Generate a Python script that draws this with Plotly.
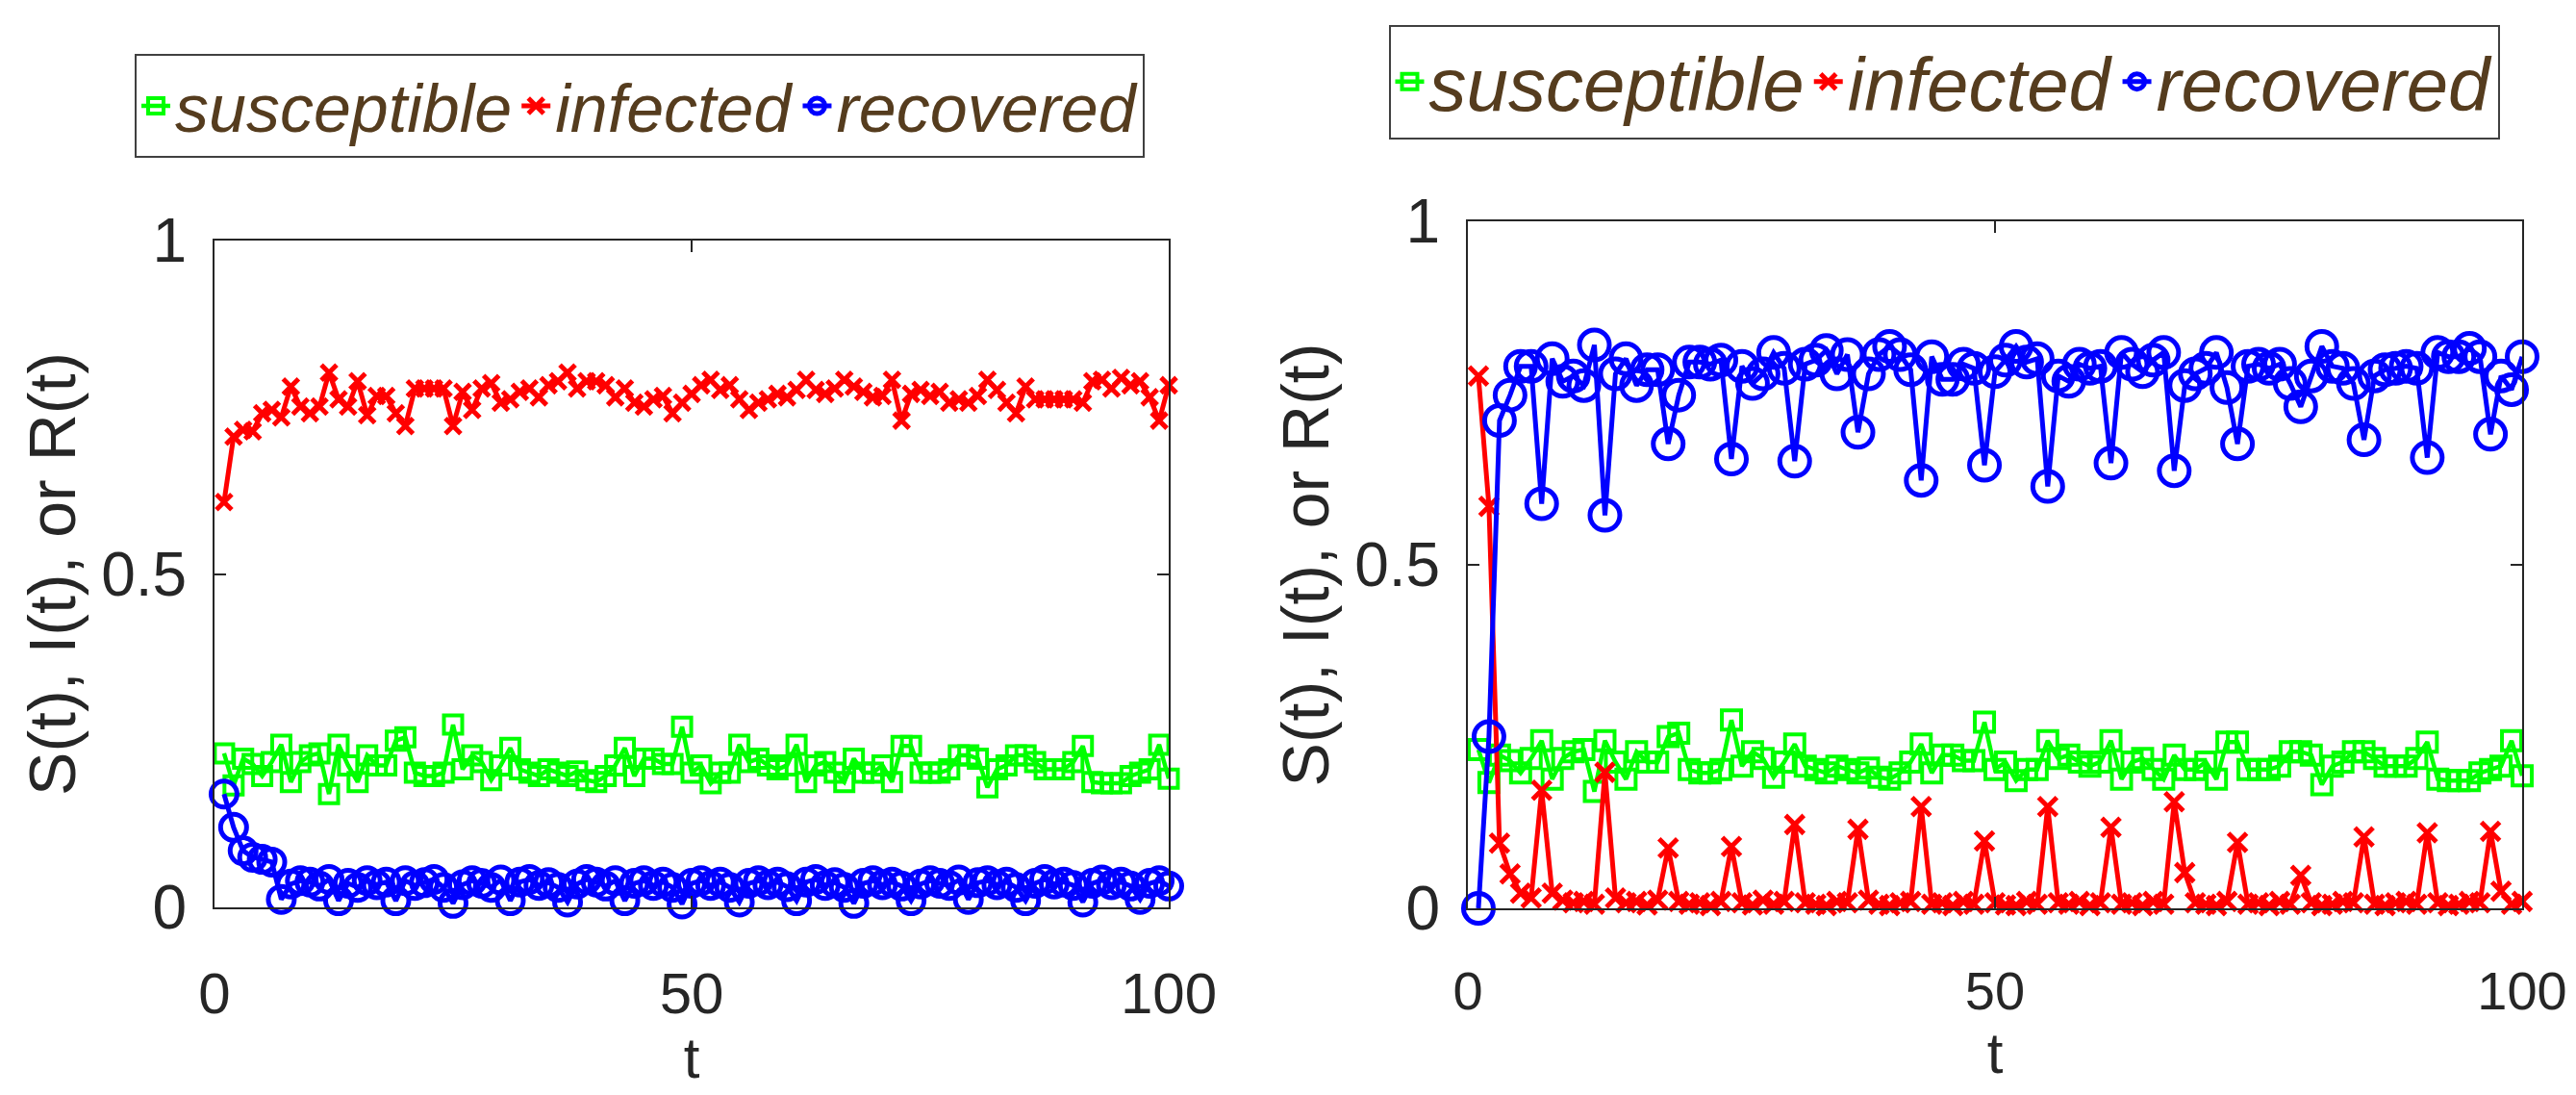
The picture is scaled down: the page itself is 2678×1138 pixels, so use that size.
import plotly.graph_objects as go

t = list(range(1, 101))

susceptible = [
    0.231, 0.183, 0.223, 0.215, 0.197, 0.218, 0.244, 0.188, 0.218, 0.228,
    0.231, 0.170, 0.244, 0.213, 0.188, 0.228, 0.213, 0.213, 0.250, 0.255,
    0.202, 0.197, 0.197, 0.202, 0.274, 0.207, 0.228, 0.218, 0.191, 0.213,
    0.239, 0.207, 0.202, 0.197, 0.207, 0.202, 0.197, 0.204, 0.191, 0.188,
    0.197, 0.213, 0.239, 0.197, 0.223, 0.223, 0.215, 0.215, 0.271, 0.202,
    0.213, 0.186, 0.202, 0.202, 0.244, 0.218, 0.223, 0.213, 0.207, 0.213,
    0.244, 0.188, 0.213, 0.218, 0.202, 0.188, 0.223, 0.202, 0.202, 0.213,
    0.188, 0.242, 0.242, 0.202, 0.202, 0.202, 0.207, 0.228, 0.228, 0.223,
    0.180, 0.207, 0.213, 0.228, 0.228, 0.218, 0.207, 0.207, 0.207, 0.218,
    0.242, 0.188, 0.186, 0.186, 0.186, 0.197, 0.202, 0.207, 0.244, 0.193,
]

infected_left = [
    0.608, 0.706, 0.716, 0.714, 0.741, 0.746, 0.735, 0.781, 0.751, 0.741,
    0.751, 0.802, 0.762, 0.751, 0.789, 0.738, 0.767, 0.767, 0.741, 0.722,
    0.778, 0.778, 0.778, 0.778, 0.722, 0.773, 0.746, 0.778, 0.786, 0.757,
    0.762, 0.773, 0.778, 0.765, 0.783, 0.789, 0.802, 0.778, 0.789, 0.789,
    0.783, 0.765, 0.778, 0.757, 0.751, 0.762, 0.767, 0.741, 0.757, 0.770,
    0.783, 0.791, 0.776, 0.783, 0.762, 0.746, 0.757, 0.762, 0.770, 0.765,
    0.776, 0.791, 0.776, 0.770, 0.778, 0.791, 0.781, 0.773, 0.765, 0.767,
    0.791, 0.730, 0.770, 0.776, 0.767, 0.773, 0.757, 0.762, 0.757, 0.767,
    0.791, 0.776, 0.757, 0.741, 0.781, 0.762, 0.762, 0.762, 0.762, 0.762,
    0.757, 0.789, 0.791, 0.778, 0.794, 0.783, 0.789, 0.765, 0.730, 0.783,
]

recovered_left = [
    0.170, 0.120, 0.085, 0.075, 0.072, 0.068, 0.012, 0.035, 0.040, 0.038,
    0.032, 0.042, 0.010, 0.036, 0.030, 0.040, 0.034, 0.038, 0.010, 0.040,
    0.033, 0.037, 0.042, 0.030, 0.006, 0.034, 0.040, 0.036, 0.030, 0.041,
    0.010, 0.038, 0.042, 0.033, 0.037, 0.030, 0.008, 0.035, 0.042, 0.038,
    0.032, 0.040, 0.010, 0.036, 0.040, 0.033, 0.038, 0.030, 0.005, 0.036,
    0.040, 0.033, 0.038, 0.030, 0.008, 0.036, 0.040, 0.034, 0.038, 0.031,
    0.010, 0.038, 0.042, 0.033, 0.037, 0.030, 0.006, 0.036, 0.040, 0.034,
    0.038, 0.032, 0.010, 0.035, 0.040, 0.036, 0.033, 0.041, 0.012, 0.037,
    0.040, 0.034, 0.038, 0.030, 0.010, 0.036, 0.042, 0.035, 0.038, 0.033,
    0.008, 0.036, 0.041, 0.034, 0.038, 0.032, 0.012, 0.036, 0.040, 0.032,
]

infected_right = [
    0.775, 0.585, 0.095, 0.050, 0.022, 0.015, 0.172, 0.022, 0.012, 0.008,
    0.010, 0.006, 0.198, 0.015, 0.008, 0.010, 0.005, 0.012, 0.088, 0.010,
    0.006, 0.008, 0.004, 0.010, 0.090, 0.008, 0.005, 0.012, 0.006, 0.010,
    0.122, 0.008, 0.006, 0.004, 0.010, 0.008, 0.115, 0.012, 0.006, 0.004,
    0.008, 0.010, 0.148, 0.006, 0.008, 0.004, 0.010, 0.006, 0.098, 0.008,
    0.005, 0.004, 0.010, 0.006, 0.148, 0.008, 0.006, 0.010, 0.004, 0.008,
    0.118, 0.006, 0.008, 0.004, 0.010, 0.006, 0.155, 0.052, 0.008, 0.006,
    0.004, 0.010, 0.096, 0.006, 0.008, 0.004, 0.010, 0.006, 0.048, 0.008,
    0.004, 0.006, 0.010, 0.008, 0.104, 0.006, 0.004, 0.008, 0.010, 0.006,
    0.110, 0.008, 0.004, 0.006, 0.010, 0.008, 0.112, 0.025, 0.006, 0.010,
]

recovered_right = [
    0.000, 0.250, 0.710, 0.747, 0.789, 0.789, 0.589, 0.800, 0.767, 0.775,
    0.761, 0.820, 0.572, 0.778, 0.800, 0.761, 0.784, 0.784, 0.676, 0.747,
    0.795, 0.795, 0.792, 0.798, 0.654, 0.789, 0.764, 0.778, 0.809, 0.786,
    0.651, 0.792, 0.798, 0.812, 0.778, 0.806, 0.693, 0.778, 0.806, 0.818,
    0.806, 0.784, 0.623, 0.803, 0.770, 0.770, 0.792, 0.786, 0.645, 0.781,
    0.798, 0.818, 0.795, 0.800, 0.614, 0.775, 0.767, 0.792, 0.786, 0.789,
    0.648, 0.809, 0.792, 0.781, 0.798, 0.809, 0.637, 0.761, 0.778, 0.786,
    0.809, 0.758, 0.676, 0.789, 0.792, 0.786, 0.792, 0.764, 0.730, 0.775,
    0.818, 0.789, 0.786, 0.764, 0.682, 0.775, 0.784, 0.786, 0.789, 0.786,
    0.656, 0.809, 0.803, 0.803, 0.815, 0.803, 0.690, 0.775, 0.755, 0.803,
]

x_ticks = [0, 50, 100]
y_ticks = [0, 0.5, 1]
y_tick_text = ["0", "0.5", "1"]
legend_names = ["susceptible", "infected", "recovered"]

GREEN = "#00ff00"
RED = "#ff0000"
BLUE = "#0000ff"
AXC = "#262626"
TXT = "#553c1e"
FONT = "Liberation Sans, Arial, Helvetica, sans-serif"

fig = go.Figure()


def add_panel(S, I, R, xa, ya, leg, big):
    csize = 31 if big else 27
    ssize = 20 if big else 19
    xsize = 19 if big else 16
    fig.add_trace(go.Scatter(
        x=t, y=S, xaxis=xa, yaxis=ya, legend=leg, mode="lines+markers",
        name="<i>" + legend_names[0] + "</i>", cliponaxis=False,
        line=dict(color=GREEN, width=4.5),
        marker=dict(symbol="square-open", size=ssize, color=GREEN,
                    line=dict(color=GREEN, width=4))))
    fig.add_trace(go.Scatter(
        x=t, y=I, xaxis=xa, yaxis=ya, legend=leg, mode="lines+markers",
        name="<i>" + legend_names[1] + "</i>", cliponaxis=False,
        line=dict(color=RED, width=5),
        marker=dict(symbol="x-thin", size=xsize, color=RED,
                    line=dict(color=RED, width=5))))
    fig.add_trace(go.Scatter(
        x=t, y=R, xaxis=xa, yaxis=ya, legend=leg, mode="lines+markers",
        name="<i>" + legend_names[2] + "</i>", cliponaxis=False,
        line=dict(color=BLUE, width=5),
        marker=dict(symbol="circle-open", size=csize, color=BLUE,
                    line=dict(color=BLUE, width=5))))


add_panel(susceptible, infected_left, recovered_left, "x", "y", "legend", False)
add_panel(susceptible, infected_right, recovered_right, "x2", "y2", "legend2", True)

W, H = 2678, 1138


def xaxis_style(size):
    return dict(range=[0, 100], tickvals=x_ticks, ticktext=[str(v) for v in x_ticks],
                ticks="inside", ticklen=12, tickwidth=2, tickcolor=AXC,
                showline=True, linecolor=AXC, linewidth=2, mirror="ticks",
                showgrid=False, zeroline=False,
                tickfont=dict(family=FONT, size=size, color=AXC),
                ticklabelstandoff=36, ticklabeloverflow="allow",
                title=dict(text="t", font=dict(family=FONT, size=60, color=AXC), standoff=10))


ycommon = dict(range=[0, 1], tickvals=y_ticks, ticktext=y_tick_text,
               ticks="inside", ticklen=12, tickwidth=2, tickcolor=AXC,
               showline=True, linecolor=AXC, linewidth=2, mirror="ticks",
               showgrid=False, zeroline=False,
               tickfont=dict(family=FONT, size=64, color=AXC),
               ticklabelstandoff=14,
               title=dict(text="S(t), I(t), or R(t)",
                          font=dict(family=FONT, size=68, color=AXC),
                          standoff=4))

fig.update_layout(
    width=W, height=H,
    margin=dict(l=0, r=0, t=0, b=0, autoexpand=False),
    paper_bgcolor="white", plot_bgcolor="white",
    showlegend=True,
    xaxis=dict(domain=[215 / W, 1207 / W], anchor="y", **xaxis_style(60)),
    yaxis=dict(domain=[1 - 935 / H, 1 - 242 / H], anchor="x", **ycommon),
    xaxis2=dict(domain=[1518 / W, 2614 / W], anchor="y2", **xaxis_style(56)),
    yaxis2=dict(domain=[1 - 936 / H, 1 - 222 / H], anchor="x2", **ycommon),
    legend=dict(orientation="h", x=657 / W, y=1 - 102 / H, xanchor="center", yanchor="middle",
                bgcolor="white", bordercolor="#404040", borderwidth=2,
                font=dict(family=FONT, size=70, color=TXT),
                itemwidth=30, tracegroupgap=0),
    legend2=dict(orientation="h", x=2013 / W, y=1 - 77 / H, xanchor="center", yanchor="middle",
                 bgcolor="white", bordercolor="#404040", borderwidth=2,
                 font=dict(family=FONT, size=78, color=TXT),
                 itemwidth=30, tracegroupgap=0),
)

fig.write_html("out.html")
